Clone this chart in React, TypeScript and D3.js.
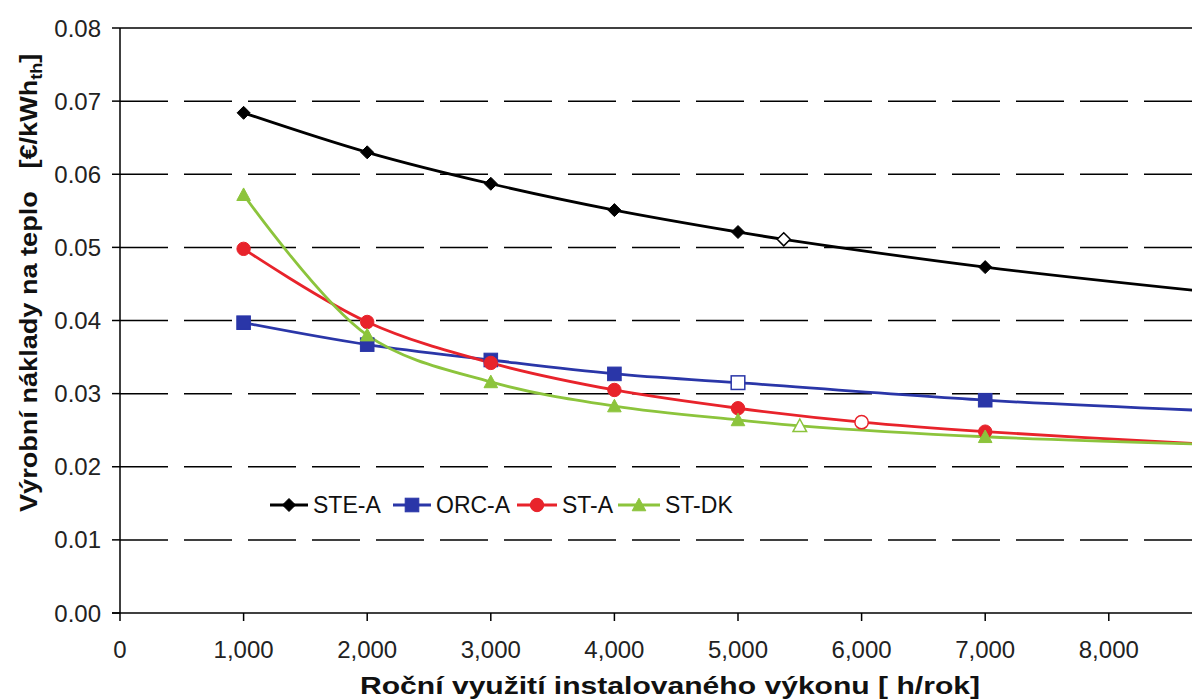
import React from "react";
import * as d3 from "d3";

const yTicks = [0, 0.01, 0.02, 0.03, 0.04, 0.05, 0.06, 0.07, 0.08];
const xTicks = [0, 1000, 2000, 3000, 4000, 5000, 6000, 7000, 8000];

const steX = [1000, 2000, 3000, 4000, 5000, 5370, 7000, 8760];
const steY = [0.0684, 0.063, 0.0587, 0.0551, 0.0521, 0.0511, 0.0473, 0.044];
const steHollow = [false, false, false, false, false, true, false, false];

const orcX = [1000, 2000, 3000, 4000, 5000, 7000, 8760];
const orcY = [0.0397, 0.0367, 0.0346, 0.0327, 0.0315, 0.0291, 0.0277];
const orcHollow = [false, false, false, false, true, false, false];

const stX = [1000, 2000, 3000, 4000, 5000, 6000, 7000, 8760];
const stY = [0.0498, 0.0398, 0.0342, 0.0305, 0.028, 0.0261, 0.0248, 0.0231];
const stHollow = [false, false, false, false, false, true, false, false];

const dkX = [1000, 2000, 3000, 4000, 5000, 5500, 7000, 8760];
const dkY = [0.0572, 0.038, 0.0316, 0.0283, 0.0264, 0.0256, 0.0241, 0.0231];
const dkHollow = [false, false, false, false, false, true, false, false];

const seriesNames = ["STE-A", "ORC-A", "ST-A", "ST-DK"];
const seriesColors = ["#000000", "#2a36a8", "#e8232b", "#8cc43c"];
const seriesShapes = ["diamond", "square", "circle", "triangle"];

const W = 1192;
const H = 699;
const left = 120;
const top = 28;
const bottom = 613;
const xScale = d3.scaleLinear().domain([0, 1000]).range([left, left + 123.6]);
const yScale = d3.scaleLinear().domain([0, 0.08]).range([bottom, top]);

function Marker({ shape, x, y, color, hollow }: any) {
  const fill = hollow ? "#fff" : color;
  const sw = hollow ? 1.5 : 1;
  if (shape === "diamond") {
    const s = 6.5;
    return <path d={`M${x},${y - s}L${x + s},${y}L${x},${y + s}L${x - s},${y}Z`} fill={fill} stroke={color} strokeWidth={sw} />;
  }
  if (shape === "square") {
    const s = 6.8;
    return <rect x={x - s} y={y - s} width={2 * s} height={2 * s} fill={fill} stroke={color} strokeWidth={sw} />;
  }
  if (shape === "circle") {
    return <circle cx={x} cy={y} r={6.7} fill={fill} stroke={color} strokeWidth={sw} />;
  }
  const s = 6.8;
  return <path d={`M${x},${y - s}L${x + s},${y + s * 0.85}L${x - s},${y + s * 0.85}Z`} fill={fill} stroke={color} strokeWidth={sw} />;
}

export default function App() {
  const all = [
    { xs: steX, ys: steY, hol: steHollow },
    { xs: orcX, ys: orcY, hol: orcHollow },
    { xs: stX, ys: stY, hol: stHollow },
    { xs: dkX, ys: dkY, hol: dkHollow },
  ];
  const line = d3
    .line<[number, number]>()
    .x((d) => xScale(d[0]))
    .y((d) => yScale(d[1]))
    .curve(d3.curveCatmullRom.alpha(0.5));
  const font = "'Liberation Sans', Arial, sans-serif";
  const legendX = [270, 393, 517, 618];
  const legendLen = [38, 38, 40, 42];
  const legendY = 505;
  return (
    <svg width={W} height={H} style={{ position: "absolute", left: 0, top: 0, background: "#fff" }} fontFamily={font}>
      <rect x={0} y={0} width={W} height={H} fill="#fff" />
      {yTicks.slice(1, -1).map((t) => (
        <line key={t} x1={left} x2={W} y1={yScale(t)} y2={yScale(t)} stroke="#000" strokeWidth={1.5} strokeDasharray="48,16" />
      ))}
      <line x1={left} x2={W} y1={top} y2={top} stroke="#000" strokeWidth={1.5} />
      <line x1={left} x2={left} y1={top} y2={bottom} stroke="#000" strokeWidth={1.5} />
      <line x1={left - 8} x2={W} y1={bottom} y2={bottom} stroke="#000" strokeWidth={1.5} />
      {yTicks.map((t) => (
        <g key={t}>
          <line x1={left - 8} x2={left} y1={yScale(t)} y2={yScale(t)} stroke="#000" strokeWidth={1.5} />
          <text x={101} y={yScale(t) + 8.5} textAnchor="end" fontSize={24} fill="#222">
            {t.toFixed(2)}
          </text>
        </g>
      ))}
      {xTicks.map((t) => (
        <g key={t}>
          <line x1={xScale(t)} x2={xScale(t)} y1={bottom} y2={bottom + 8} stroke="#000" strokeWidth={1.5} />
          <text x={xScale(t)} y={658} textAnchor="middle" fontSize={24} fill="#222">
            {d3.format(",")(t)}
          </text>
        </g>
      ))}
      {all.map((s, i) => (
        <path
          key={i}
          d={line(s.xs.map((x, j) => [x, s.ys[j]] as [number, number])) || ""}
          fill="none"
          stroke={seriesColors[i]}
          strokeWidth={2.8}
        />
      ))}
      {all.map((s, i) =>
        s.xs.map((x, j) => (
          <Marker key={`${i}-${j}`} shape={seriesShapes[i]} x={xScale(x)} y={yScale(s.ys[j])} color={seriesColors[i]} hollow={s.hol[j]} />
        ))
      )}
      {seriesNames.map((n, i) => (
        <g key={n}>
          <line x1={legendX[i]} x2={legendX[i] + legendLen[i]} y1={legendY} y2={legendY} stroke={seriesColors[i]} strokeWidth={2.8} />
          <Marker shape={seriesShapes[i]} x={legendX[i] + legendLen[i] / 2} y={legendY} color={seriesColors[i]} hollow={false} />
          <text x={legendX[i] + legendLen[i] + 5} y={legendY + 8} fontSize={23} fill="#111">
            {n}
          </text>
        </g>
      ))}
      <text x={360} y={694} fontSize={24} fontWeight="bold" fill="#111" textLength={620} lengthAdjust="spacingAndGlyphs">
        Roční využití instalovaného výkonu [ h/rok]
      </text>
      <text transform={`translate(37,512) rotate(-90) scale(1.13,1)`} fontSize={24} fontWeight="bold" fill="#111">
        Výrobní náklady na teplo{"\u00a0\u00a0\u00a0"}[€/kWh
        <tspan fontSize={16} dy={5}>th</tspan>
        <tspan dy={-5}>]</tspan>
      </text>
    </svg>
  );
}
